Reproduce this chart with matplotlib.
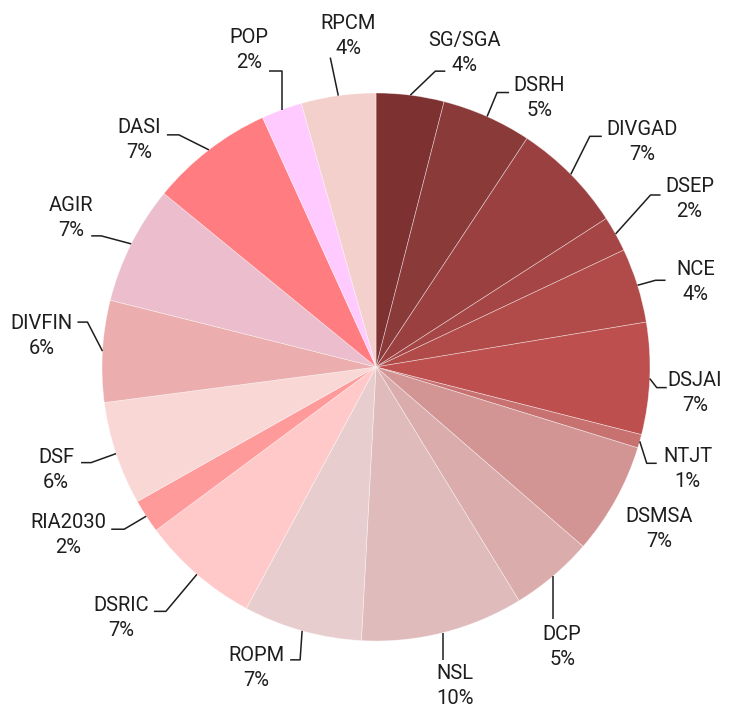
import numpy as np
import matplotlib.pyplot as plt

plt.rcParams['font.family'] = ['Roboto', 'DejaVu Sans']

# slice data, clockwise from 12 o'clock
names = ['SG/SGA', 'DSRH', 'DIVGAD', 'DSEP', 'NCE', 'DSJAI', 'NTJT', 'DSMSA',
         'DCP', 'NSL', 'ROPM', 'DSRIC', 'RIA2030', 'DSF', 'DIVFIN', 'AGIR',
         'DASI', 'POP', 'RPCM']
values = [4.0, 5.3, 6.6, 2.1, 4.4, 6.6, 0.8, 6.6,
          4.9, 9.6, 7.0, 7.0, 2.0, 6.1, 6.0, 7.0,
          7.3, 2.4, 4.4]
colors = ['#7e3131', '#8b3a3a', '#9a4040', '#a54545', '#b04b49', '#bd4f4f',
          '#c87171', '#d39494', '#dbacac', '#e0bbbb', '#e7cdce', '#ffc9c9',
          '#ff9a9b', '#f8d7d5', '#ebadad', '#ecbdcc', '#ff7d81', '#ffcaff',
          '#f4d0cc']

# label layout (pixels): elbow offset from slice edge, horizontal arm, text offset from arm end
layout = {
    'SG/SGA':  ((25, -24), 10, (19, -31)),
    'DSRH':    ((10, -24), 12, (30, -7)),
    'DIVGAD':  ((19, -38), 12, (40, -7)),
    'DSEP':    ((35, -39), 10, (29, -8)),
    'NCE':     ((18, -5), 10, (30, -11)),
    'DSJAI':   ((7, 9), 10, (28, -7)),
    'NTJT':    ((7, 22), 10, (31, -7)),
    'DSMSA':   (None, 0, (44, 16)),
    'DCP':     ((0, 43), 0, (9, 15)),
    'NSL':     ((0, 27), 0, (12, 14)),
    'ROPM':    ((-2, 29), -10, (-34, -4)),
    'DSRIC':   ((-31, 37), -12, (-33, -6)),
    'RIA2030': ((-22, 13), -13, (-43, -7)),
    'DSF':     ((-25, 9), -10, (-25, -5)),
    'DIVFIN':  ((-15, -29), -10, (-36, 1)),
    'AGIR':    ((-30, -8), -10, (-20, -30)),
    'DASI':    ((-30, -15), -12, (-28, -7)),
    'POP':     ((0, -39), -13, (-20, -33)),
    'RPCM':    ((-8, -38), 0, (18, -34)),
}

cx, cy, R = 376, 367, 274

fig = plt.figure(figsize=(7.29, 7.07), dpi=100)
ax = fig.add_axes([0, 0, 1, 1])

# y axis runs downward, so counterclockwise in data is clockwise on screen
wedges, _ = ax.pie(values, colors=colors, startangle=-90, counterclock=True,
                   center=(cx, cy), radius=R,
                   wedgeprops=dict(edgecolor=(1, 1, 1, 0.5), linewidth=0.5))
ax.set_xlim(0, 729)
ax.set_ylim(707, 0)
ax.set_aspect('equal')
ax.axis('off')

total = sum(values)
line_kw = dict(color='#1e1e1e', lw=1.1, solid_capstyle='butt')
text_kw = dict(fontsize=14.5, color='#1e1e1e', ha='center', va='center')

for w, name, v in zip(wedges, names, values):
    mid = np.deg2rad((w.theta1 + w.theta2) / 2)
    ex, ey = cx + R * np.cos(mid), cy + R * np.sin(mid)
    elbow, arm, (tx, ty) = layout[name]
    if elbow is None:
        endx, endy = ex, ey
    else:
        bx, by = ex + elbow[0], ey + elbow[1]
        endx, endy = bx + arm, by
        ax.plot([ex, bx, endx], [ey, by, endy], **line_kw)
    pct = int(round(v / total * 100))
    ax.text(endx + tx, endy + ty, name, **text_kw)
    ax.text(endx + tx, endy + ty + 25, f'{pct}%', **text_kw)

fig.savefig('out.png', dpi=100)
